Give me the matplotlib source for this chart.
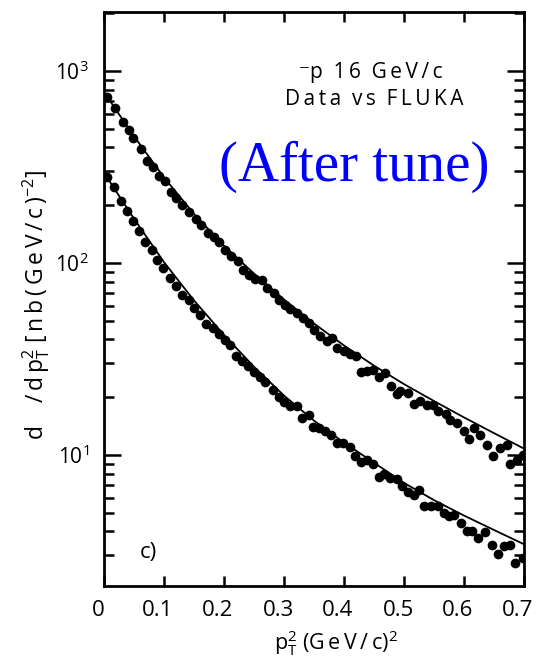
import matplotlib.pyplot as plt
import matplotlib.transforms as mtransforms
import numpy as np

plt.rcParams['font.family'] = ['Open Sans', 'DejaVu Sans']
plt.rcParams['mathtext.default'] = 'regular'

# upper data set (points)
x_up = [0.0045, 0.018, 0.031, 0.041, 0.049, 0.061, 0.071, 0.081, 0.091, 0.101,
        0.111, 0.120, 0.130, 0.142, 0.153, 0.162, 0.173, 0.183, 0.191, 0.202,
        0.212, 0.223, 0.232, 0.241, 0.251, 0.263, 0.272, 0.283, 0.292, 0.301,
        0.310, 0.322, 0.331, 0.341, 0.350, 0.360, 0.371, 0.380, 0.389, 0.400,
        0.410, 0.420, 0.428, 0.438, 0.449, 0.458, 0.469, 0.478, 0.488, 0.494,
        0.506, 0.516, 0.526, 0.538, 0.548, 0.556, 0.570, 0.576, 0.588, 0.600,
        0.608, 0.616, 0.626, 0.638, 0.648, 0.660, 0.672, 0.677, 0.688, 0.698]
y_up = [735, 640, 541, 493, 446, 393, 340, 316, 285, 267,
        234, 218, 200, 185, 170, 158, 144, 136, 128, 117,
        109, 102, 92.0, 86.6, 82.6, 81.5, 73.8, 70.0, 63.8, 60.4,
        57.8, 55.1, 52.0, 48.8, 44.8, 41.5, 39.1, 40.9, 36.2, 34.7,
        33.6, 32.7, 27.1, 27.5, 27.7, 25.5, 26.7, 22.9, 20.8, 21.5,
        21.0, 18.5, 19.1, 18.2, 18.2, 16.9, 16.4, 15.2, 14.7, 13.3,
        12.1, 13.8, 12.7, 11.3, 9.9, 10.9, 11.3, 9.0, 9.4, 10.0]

# lower data set (points)
x_lo = [0.0045, 0.0167, 0.0279, 0.0379, 0.0479, 0.059, 0.0685, 0.0796, 0.089, 0.099,
        0.110, 0.120, 0.130, 0.141, 0.150, 0.160, 0.170, 0.181, 0.191, 0.201,
        0.2105, 0.2205, 0.230, 0.2395, 0.2506, 0.2606, 0.269, 0.2818, 0.291, 0.3007,
        0.3096, 0.322, 0.330, 0.341, 0.349, 0.358, 0.369, 0.379, 0.388, 0.399,
        0.410, 0.419, 0.428, 0.438, 0.449, 0.458, 0.467, 0.477, 0.489, 0.496,
        0.506, 0.517, 0.525, 0.533, 0.545, 0.556, 0.566, 0.575, 0.584, 0.595,
        0.605, 0.614, 0.624, 0.635, 0.647, 0.656, 0.666, 0.677, 0.685, 0.698]
y_lo = [281, 248, 211, 187, 166, 147, 129, 117, 104, 93.8,
        83.2, 75.9, 68.1, 64.1, 58.5, 53.3, 48.1, 45.7, 42.9, 39.9,
        37.4, 32.8, 31.0, 29.1, 27.2, 25.6, 24.1, 21.8, 20.1, 19.0,
        18.0, 17.9, 15.5, 16.1, 14.0, 13.8, 13.3, 12.7, 11.5, 11.5,
        11.0, 9.9, 9.2, 9.4, 8.95, 7.7, 8.0, 7.6, 7.5, 6.9,
        6.4, 6.2, 6.6, 5.4, 5.4, 5.4, 5.0, 4.8, 4.9, 4.4,
        4.0, 4.0, 3.7, 3.95, 3.4, 3.05, 3.35, 3.4, 2.73, 2.92]

# FLUKA curves
x_fit = [0.0, 0.05, 0.1, 0.15, 0.2, 0.25, 0.3, 0.35, 0.4, 0.45, 0.5, 0.55, 0.6, 0.65, 0.7]
fit_up = [776, 457, 279, 180, 123, 88.1, 64.6, 48.4, 37.2, 29.2, 23.4, 19.1, 15.7, 13.0, 10.8]
fit_lo = [295, 170, 101, 63.8, 42.2, 28.8, 20.4, 15.1, 11.6, 9.12, 7.16, 5.82, 4.84, 4.07, 3.43]

xticks = [0, 0.1, 0.2, 0.3, 0.4, 0.5, 0.6, 0.7]
xticklabels = ['0', '0.1', '0.2', '0.3', '0.4', '0.5', '0.6', '0.7']

ts = '\u2009'  # thin space, to imitate the wide letter spacing of the original


def spaced(s):
    return ts.join(s)


fig = plt.figure(figsize=(5.37, 6.68), dpi=100)
ax = fig.add_axes([0.1937, 0.1228, 0.7821, 0.8593])

ax.plot(x_fit, fit_up, color='black', lw=1.3)
ax.plot(x_fit, fit_lo, color='black', lw=1.3)
ax.plot(x_up, y_up, 'o', color='black', ms=7, mew=0)
ax.plot(x_lo, y_lo, 'o', color='black', ms=7, mew=0)

ax.set_yscale('log')
ax.set_xlim(0, 0.7)
ax.set_ylim(2.08, 2030)
ax.set_xticks(xticks)
ax.set_xticklabels(xticklabels)
ax.xaxis.set_minor_locator(plt.NullLocator())

for s in ax.spines.values():
    s.set_linewidth(2)
ax.tick_params(which='both', direction='in', top=True, right=True, width=1.8)
ax.tick_params(axis='x', which='major', length=7, pad=10, labelsize=16)
ax.tick_params(axis='y', which='major', length=12, pad=11, labelsize=15)
ax.tick_params(axis='y', which='minor', length=7.5)

# x tick labels sit a little left of their ticks in the original
shift = mtransforms.ScaledTranslation(-6 / 100, 0, fig.dpi_scale_trans)
for lab in ax.get_xticklabels():
    lab.set_transform(lab.get_transform() + shift)

ax.set_xlabel('p$_T^2$ (' + spaced('GeV/c') + ')$^2$', fontsize=15.5)
ax.xaxis.set_label_coords(0.552, -0.074)
ax.set_ylabel('d    ' + spaced('/dp') + '$_T^2$ ' + spaced('[nb(GeV/c)') + '$^{-2}$]',
              fontsize=16.5)
ax.yaxis.set_label_coords(-0.125, 0.49)

ax.text(0.636, 0.895, '\u207bp  ' + spaced('16') + '  ' + spaced('GeV/c'),
        transform=ax.transAxes, ha='center', va='center', fontsize=15)
ax.text(0.643, 0.848, spaced('Data') + '  ' + spaced('vs') + '  ' + spaced('FLUKA'),
        transform=ax.transAxes, ha='center', va='center', fontsize=15)
ax.text(0.595, 0.73, '(After tune)', transform=ax.transAxes, ha='center',
        va='center', fontsize=41, color='#0000ff', family='Liberation Serif')
ax.text(0.105, 0.059, 'c)', transform=ax.transAxes, ha='center', va='center',
        fontsize=16)

fig.savefig('out.png', dpi=100)
